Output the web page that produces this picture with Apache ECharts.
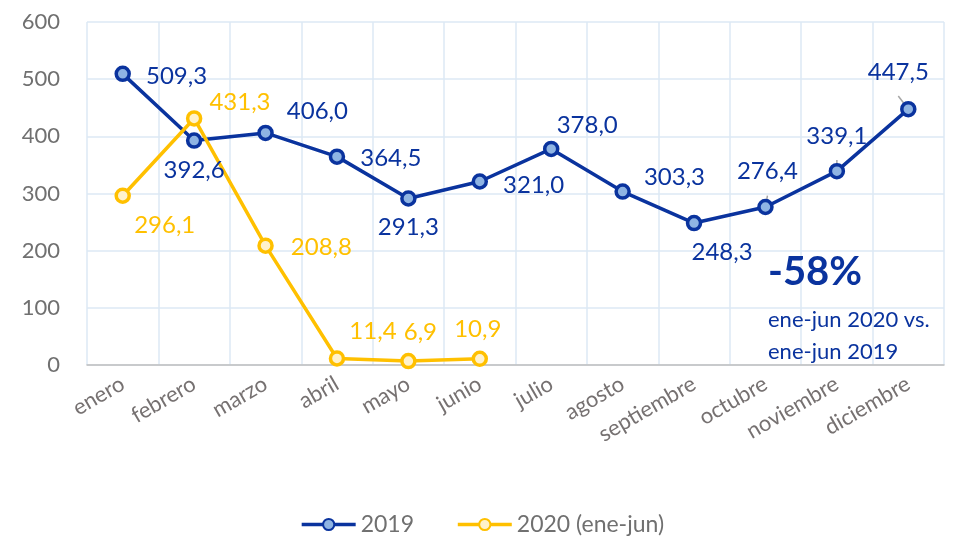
<!DOCTYPE html>
<html>
<head>
<meta charset="utf-8">
<script src="https://cdn.jsdelivr.net/npm/echarts@6/dist/echarts.min.js"></script>
<style>
  html, body { margin: 0; padding: 0; background: #fff; }
  #chart { width: 964px; height: 547px; }
</style>
</head>
<body>
<div id="chart"></div>
<script>
const months = ["enero", "febrero", "marzo", "abril", "mayo", "junio", "julio",
  "agosto", "septiembre", "octubre", "noviembre", "diciembre"];
const values2019 = [509.3, 392.6, 406.0, 364.5, 291.3, 321.0, 378.0, 303.3, 248.3, 276.4, 339.1, 447.5];
const values2020 = [296.1, 431.3, 208.8, 11.4, 6.9, 10.9];
const yTicks = { min: 0, max: 600, interval: 100 };

// label placement per point (style only)
const pos2019 = [
  { position: "right", offset: [10, 2] },
  { position: "bottom", offset: [0, 4] },
  { position: "right", offset: [8, -22] },
  { position: "right", offset: [10, 2] },
  { position: "bottom", offset: [0, 4] },
  { position: "right", offset: [10, 4] },
  { position: "top", offset: [36, 2] },
  { position: "right", offset: [8, -14] },
  { position: "bottom", offset: [28, 4] },
  { position: "top", offset: [2, -10], labelLine: { show: true } },
  { position: "top", offset: [0, -10], labelLine: { show: true } },
  { position: "top", offset: [-10, -12], labelLine: { show: true } },
];
const pos2020 = [
  { position: "bottom", offset: [42, 4] },
  { position: "right", offset: [2, -16] },
  { position: "right", offset: [12, 2] },
  { position: "top", offset: [36, -2] },
  { position: "top", offset: [12, -4] },
  { position: "top", offset: [-2, -4] },
];

const fmt = (p) => p.value.toFixed(1).replace(".", ",");
const blue = "#0a339e";
const gold = "#ffc000";
const font = "Lato";

const chart = echarts.init(document.getElementById("chart"));
chart.setOption({
  animation: false,
  textStyle: { fontFamily: font },
  grid: { left: 87, right: 20, top: 22, bottom: 182 },
  legend: {
    bottom: 6,
    left: "center",
    itemWidth: 54,
    itemHeight: 14,
    itemGap: 42,
    lineStyle: { width: 3.5 },
    textStyle: { fontSize: 23, color: "#707070", fontFamily: font },
    data: ["2019", "2020 (ene-jun)"],
  },
  xAxis: {
    type: "category",
    data: months,
    boundaryGap: true,
    axisLine: { lineStyle: { color: "#bfbfbf", width: 1.5 } },
    axisTick: { show: false },
    axisLabel: { rotate: 30, interval: 0, fontSize: 22, color: "#767171", margin: 17, fontFamily: font },
    splitLine: { show: true, lineStyle: { color: "#dde8f4", width: 1.5 } },
  },
  yAxis: {
    type: "value",
    min: yTicks.min,
    max: yTicks.max,
    interval: yTicks.interval,
    axisLine: { show: false },
    axisTick: { show: false },
    axisLabel: { fontSize: 22, color: "#707070", margin: 27, fontFamily: font },
    splitLine: { lineStyle: { color: "#dde8f4", width: 1.5 } },
  },
  series: [
    {
      name: "2019",
      type: "line",
      data: values2019.map((v, i) => ({ value: v, label: pos2019[i], labelLine: pos2019[i].labelLine })),
      symbol: "circle",
      symbolSize: 13,
      lineStyle: { color: blue, width: 3.5 },
      itemStyle: { color: "#8fb4e3", borderColor: blue, borderWidth: 3.5 },
      label: { show: true, formatter: fmt, fontSize: 24, color: blue, fontFamily: font },
      labelLine: { show: false, lineStyle: { color: "#a6a6a6", width: 1.5 } },
    },
    {
      name: "2020 (ene-jun)",
      type: "line",
      data: values2020.map((v, i) => ({ value: v, label: pos2020[i] })),
      symbol: "circle",
      symbolSize: 13,
      lineStyle: { color: gold, width: 3.5 },
      itemStyle: { color: "#fff2cc", borderColor: gold, borderWidth: 3.5 },
      label: { show: true, formatter: fmt, fontSize: 24, color: gold, fontFamily: font },
    },
  ],
  graphic: [
    {
      type: "text",
      left: 768,
      top: 252,
      z: 100,
      style: { text: "-58%", fontSize: 40, fontWeight: "bold", fill: blue, fontFamily: font },
    },
    {
      type: "text",
      left: 768,
      top: 309,
      z: 100,
      style: { text: "ene-jun 2020 vs.", fontSize: 22, fill: blue, fontFamily: font },
    },
    {
      type: "text",
      left: 768,
      top: 341,
      z: 100,
      style: { text: "ene-jun 2019", fontSize: 22, fill: blue, fontFamily: font },
    },
  ],
});
</script>
</body>
</html>
